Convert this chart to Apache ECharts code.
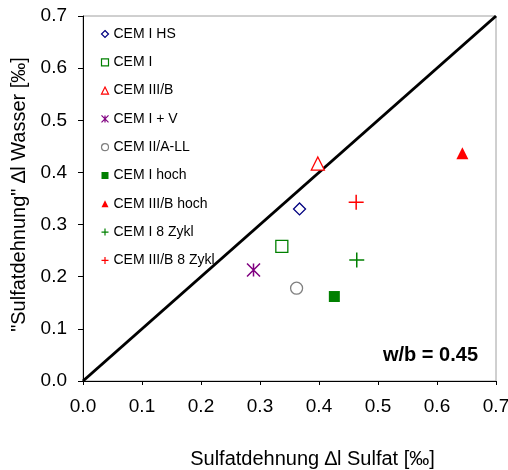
<!DOCTYPE html>
<html>
<head>
<meta charset="utf-8">
<script src="https://cdn.jsdelivr.net/npm/echarts@6/dist/echarts.min.js"></script>
<style>
  html, body { margin: 0; padding: 0; background: #fff; }
  #chart { width: 508px; height: 470px; }
</style>
</head>
<body>
<div id="chart"></div>
<script>
// Cement types and their expansion values (‰)
const seriesNames = ['CEM I HS', 'CEM I', 'CEM III/B', 'CEM I + V', 'CEM II/A-LL',
                     'CEM I hoch', 'CEM III/B hoch', 'CEM I 8 Zykl', 'CEM III/B 8 Zykl'];
const sulfatValues = [0.367, 0.337, 0.398, 0.289, 0.362, 0.426, 0.643, 0.464, 0.463];
const wasserValues = [0.330, 0.258, 0.417, 0.213, 0.178, 0.162, 0.437, 0.232, 0.343];
// Reference line Δl Sulfat = Δl Wasser
const diagonal = [[0, 0], [0.7, 0.7]];

const FONT = '"Liberation Sans", Arial, sans-serif';
const plusPath = 'path://M0,5L10,5M5,0L5,10';
const starPath = 'path://M0,0L10,10M10,0L0,10M5,0L5,10';

const markerStyles = [
  { symbol: 'diamond',  size: 12, color: '#fff', border: '#000080', bw: 1.3 },
  { symbol: 'rect',     size: 12, color: '#fff', border: '#008000', bw: 1.3 },
  { symbol: 'triangle', size: 13, color: '#fff', border: '#ff0000', bw: 1.3 },
  { symbol: starPath,   size: 13, color: 'none', border: '#800080', bw: 1.5 },
  { symbol: 'circle',   size: 12, color: '#fff', border: '#808080', bw: 1.3 },
  { symbol: 'rect',     size: 11, color: '#008000', border: '#008000', bw: 0 },
  { symbol: 'triangle', size: 12, color: '#ff0000', border: '#ff0000', bw: 0 },
  { symbol: plusPath,   size: 15, color: 'none', border: '#008000', bw: 1.5 },
  { symbol: plusPath,   size: 15, color: 'none', border: '#ff0000', bw: 1.5 }
];

const scatterSeries = seriesNames.map((name, i) => {
  const m = markerStyles[i];
  return {
    name: name,
    type: 'scatter',
    z: 3,
    symbol: m.symbol,
    symbolSize: m.size,
    itemStyle: { color: m.color, borderColor: m.border, borderWidth: m.bw, opacity: 1 },
    emphasis: { disabled: true },
    data: [[sulfatValues[i], wasserValues[i]]]
  };
});

// Legend icons use thinner outlines than the plotted markers
const legendItems = seriesNames.map((name, i) => ({
  name: name,
  itemStyle: { borderWidth: markerStyles[i].bw ? 1.2 : 0 }
}));

const chart = echarts.init(document.getElementById('chart'), null, { renderer: 'canvas' });
chart.setOption({
  animation: false,
  backgroundColor: '#fff',
  textStyle: { fontFamily: FONT },
  grid: {
    left: 83, right: 12, top: 16, bottom: 89,
    outerBoundsMode: 'none',
    containLabel: false,
    show: true, borderColor: '#a0a0a0', borderWidth: 1, backgroundColor: 'transparent'
  },
  legend: {
    orient: 'vertical',
    left: 99,
    top: 27,
    itemWidth: 7,
    itemHeight: 7,
    itemGap: 14.3,
    padding: 0,
    data: legendItems,
    textStyle: { fontFamily: FONT, fontSize: 14, color: '#000', lineHeight: 14 },
    selectedMode: false
  },
  xAxis: {
    type: 'value',
    min: 0, max: 0.7, interval: 0.1,
    name: 'Sulfatdehnung \u2206l Sulfat [\u2030]',
    nameLocation: 'middle',
    nameGap: 68,
    nameTextStyle: { fontFamily: FONT, fontSize: 20, color: '#000', padding: [0, 0, 0, 46] },
    axisLine: { show: true, lineStyle: { color: '#000', width: 1 } },
    axisTick: { show: true, length: 4, inside: false, lineStyle: { color: '#000' } },
    axisLabel: {
      fontFamily: FONT, fontSize: 19, color: '#000', margin: 16,
      formatter: v => v.toFixed(1)
    },
    splitLine: { show: false }
  },
  yAxis: {
    type: 'value',
    min: 0, max: 0.7, interval: 0.1,
    name: '"Sulfatdehnung" \u2206l Wasser [\u2030]',
    nameLocation: 'middle',
    nameGap: 50,
    nameTextStyle: { fontFamily: FONT, fontSize: 20, color: '#000', padding: [0, 0, 0, 8] },
    axisLine: { show: true, lineStyle: { color: '#000', width: 1 } },
    axisTick: { show: true, length: 5, inside: false, lineStyle: { color: '#000' } },
    axisLabel: {
      fontFamily: FONT, fontSize: 19, color: '#000', margin: 16,
      formatter: v => v.toFixed(1)
    },
    splitLine: { show: false }
  },
  graphic: [{
    type: 'text',
    right: 30,
    top: 345,
    style: { text: 'w/b = 0.45', font: 'bold 20px ' + FONT, fill: '#000' }
  }],
  series: [{
    name: 'Δl Sulfat = Δl Wasser',
    type: 'line',
    z: 2,
    data: diagonal,
    symbol: 'none',
    lineStyle: { color: '#000', width: 3 },
    emphasis: { disabled: true }
  }].concat(scatterSeries)
});
</script>
</body>
</html>
